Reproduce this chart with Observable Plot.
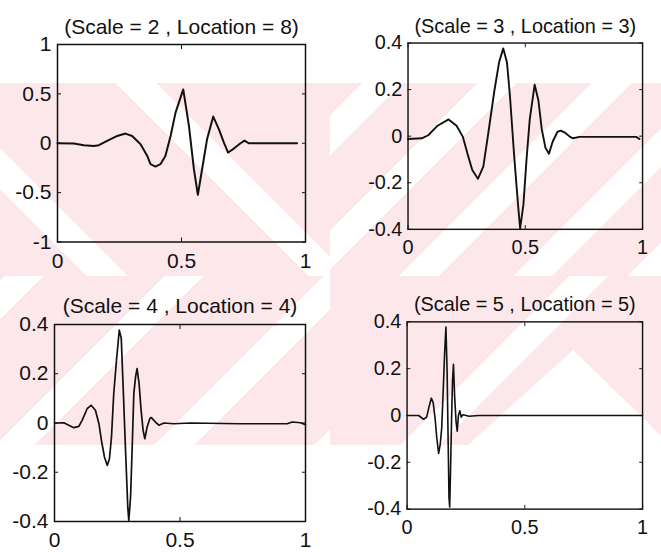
<!DOCTYPE html>
<html><head><meta charset="utf-8">
<script src="https://cdn.jsdelivr.net/npm/d3@7"></script>
<script src="https://cdn.jsdelivr.net/npm/@observablehq/plot@0.6"></script>
<style>
html,body{margin:0;padding:0;background:#fff;overflow:hidden;}
#wrap{position:relative;width:661px;height:552px;overflow:hidden;background:#fff;}
.wm{position:absolute;}
.panel{position:absolute;}
.panel svg{overflow:visible;}
</style></head><body>
<div id="wrap">
  <div class="wm" style="left:0;top:83px;width:330px;height:193px;background:repeating-linear-gradient(45deg,#fce8eb 0 61px,#fff 61px 90px,#fce8eb 90px 157px);"></div>
  <div class="wm" style="left:330px;top:83px;width:331px;height:193px;background:repeating-linear-gradient(135deg,#fce8eb 0 23px,#fff 23px 51px,#fce8eb 51px 81px);"></div>
  <div class="wm" style="left:0;top:276px;width:330px;height:169px;background:repeating-linear-gradient(135deg,#fce8eb 0 3px,#fff 3px 31px,#fce8eb 31px 113px);"></div>
  <div class="wm" style="left:330px;top:276px;width:331px;height:169px;background:linear-gradient(135deg,#fce8eb 0 169px,#fff 169px 197px,#fce8eb 197px);"></div>
  <div class="wm" style="left:467px;top:350px;width:195px;height:96px;background:#fff;clip-path:polygon(54.4% 0,100% 90%,100% 100%,0 100%);"></div>
  <div id="p1" class="panel" style="left:0;top:0;"></div>
  <div id="p2" class="panel" style="left:330px;top:0;"></div>
  <div id="p3" class="panel" style="left:0;top:276px;"></div>
  <div id="p4" class="panel" style="left:330px;top:276px;"></div>
</div>
<script>
// ---- tick labels ----
const xTicks = [0, 0.5, 1];
const yTicksWide = [-1, -0.5, 0, 0.5, 1];
const yTicksNarrow = [-0.4, -0.2, 0, 0.2, 0.4];

// ---- titles ----
const titles = [
  "(Scale = 2 , Location = 8)",
  "(Scale = 3 , Location = 3)",
  "(Scale = 4 , Location = 4)",
  "(Scale = 5 , Location = 5)"
];

// ---- series: Scale 2, Location 8 ----
const s2x = [0, 0.066, 0.106, 0.146, 0.167, 0.200, 0.241, 0.274, 0.301, 0.335, 0.362, 0.375, 0.395, 0.415, 0.435, 0.456, 0.476, 0.507, 0.530, 0.550, 0.566, 0.583, 0.603, 0.628, 0.651, 0.671, 0.688, 0.711, 0.738, 0.754, 0.771, 0.966];
const s2y = [0, -0.003, -0.02, -0.027, -0.02, 0.024, 0.074, 0.098, 0.074, -0.01, -0.128, -0.212, -0.236, -0.212, -0.128, 0.074, 0.31, 0.545, 0.175, -0.263, -0.522, -0.263, 0.04, 0.27, 0.141, 0.007, -0.094, -0.054, 0, 0.027, 0, 0];

// ---- series: Scale 3, Location 3 ----
const s3x = [0, 0.059, 0.086, 0.126, 0.173, 0.207, 0.234, 0.254, 0.274, 0.298, 0.321, 0.341, 0.368, 0.388, 0.406, 0.422, 0.435, 0.452, 0.469, 0.478, 0.492, 0.505, 0.519, 0.540, 0.556, 0.570, 0.586, 0.601, 0.617, 0.637, 0.651, 0.671, 0.691, 0.704, 0.731, 0.946, 0.973, 0.987];
const s3y = [-0.012, -0.009, 0.004, 0.045, 0.072, 0.045, -0.003, -0.077, -0.145, -0.183, -0.131, 0.004, 0.194, 0.316, 0.377, 0.316, 0.167, -0.077, -0.294, -0.396, -0.294, -0.104, 0.072, 0.221, 0.153, 0.031, -0.05, -0.075, -0.023, 0.018, 0.024, 0.014, -0.003, -0.009, -0.003, -0.003, -0.003, -0.012];

// ---- series: Scale 4, Location 4 ----
const s4x = [0, 0.037, 0.057, 0.077, 0.097, 0.110, 0.130, 0.146, 0.163, 0.177, 0.187, 0.199, 0.210, 0.219, 0.227, 0.236, 0.247, 0.258, 0.266, 0.274, 0.283, 0.292, 0.296, 0.303, 0.310, 0.316, 0.323, 0.329, 0.337, 0.345, 0.353, 0.360, 0.369, 0.380, 0.386, 0.402, 0.416, 0.436, 0.475, 0.542, 0.741, 0.927, 0.947, 0.980, 1.0];
const s4y = [0, 0.001, -0.009, -0.019, -0.014, 0.011, 0.058, 0.072, 0.052, -0.003, -0.071, -0.138, -0.172, -0.145, -0.057, 0.119, 0.255, 0.377, 0.343, 0.133, -0.111, -0.342, -0.396, -0.301, -0.084, 0.119, 0.187, 0.221, 0.16, 0.052, -0.03, -0.064, -0.016, 0.018, 0.022, 0.004, -0.009, 0, -0.003, 0, -0.003, -0.003, 0.004, 0.001, -0.007];

// ---- series: Scale 5, Location 5 ----
const s5x = [0, 0.049, 0.070, 0.083, 0.094, 0.103, 0.111, 0.119, 0.126, 0.134, 0.141, 0.147, 0.154, 0.159, 0.165, 0.170, 0.174, 0.178, 0.181, 0.185, 0.189, 0.193, 0.197, 0.202, 0.208, 0.213, 0.218, 0.224, 0.230, 0.237, 0.264, 0.304, 1.0];
const s5y = [0, 0, -0.016, -0.007, 0.04, 0.074, 0.054, -0.013, -0.094, -0.162, -0.121, -0.054, 0.121, 0.256, 0.378, 0.189, -0.081, -0.351, -0.391, -0.216, -0.013, 0.148, 0.219, 0.081, -0.027, -0.067, 0, 0.02, -0.007, 0.003, -0.003, 0, 0];

const FONT = "Arial, 'Liberation Sans', Helvetica, sans-serif";
const fmt = d => String(d);

function panel(el, cfg) {
  const data = cfg.xs.map((x, i) => ({x, y: cfg.ys[i]}));
  const svg = Plot.plot({
    width: cfg.width, height: 276,
    marginLeft: cfg.ml, marginRight: cfg.mr, marginTop: cfg.mt, marginBottom: cfg.mb,
    x: {domain: [0, 1], axis: null},
    y: {domain: cfg.yDomain, axis: null},
    style: {background: "transparent", fontFamily: FONT, fontSize: "21px", color: "#111", overflow: "visible"},
    marks: [
      Plot.line(data, {x: "x", y: "y", stroke: "#111", strokeWidth: cfg.sw, strokeLinejoin: "round"}),
      Plot.frame({stroke: "#111", strokeWidth: 1.5}),
      Plot.axisY(cfg.yTicks, {anchor: "left", label: null, tickSize: -4, tickPadding: 10, fontSize: 21, tickFormat: fmt, stroke: "#111"}),
      Plot.axisY(cfg.yTicks, {anchor: "right", label: null, tickSize: -4, tickFormat: () => "", stroke: "#111"}),
      Plot.axisX(xTicks, {anchor: "bottom", label: null, tickSize: -4, tickPadding: 15, fontSize: 21, tickFormat: fmt, stroke: "#111"}),
      Plot.axisX(xTicks, {anchor: "top", label: null, tickSize: -4, tickFormat: () => "", stroke: "#111"}),
      Plot.text([cfg.title], {frameAnchor: "top", dy: cfg.tdy, fontSize: 21, fill: "#111"})
    ]
  });
  document.getElementById(el).appendChild(svg);
}

panel("p1", {title: titles[0], xs: s2x, ys: s2y, yDomain: [-1, 1], yTicks: yTicksWide, width: 330, ml: 57, mr: 25, mt: 44, mb: 34.5, sw: 2, tdy: -25});
panel("p2", {title: titles[1], xs: s3x, ys: s3y, yDomain: [-0.4, 0.4], yTicks: yTicksNarrow, width: 350, ml: 82, mr: 20, mt: 45, mb: 34, sw: 2, tdy: -26});
panel("p3", {title: titles[2], xs: s4x, ys: s4y, yDomain: [-0.4, 0.4], yTicks: yTicksNarrow, width: 330, ml: 54, mr: 25, mt: 48, mb: 31, sw: 1.7, tdy: -26});
panel("p4", {title: titles[3], xs: s5x, ys: s5y, yDomain: [-0.4, 0.4], yTicks: yTicksNarrow, width: 350, ml: 81, mr: 20, mt: 48, mb: 30, sw: 1.7, tdy: -26});
</script>
</body></html>
